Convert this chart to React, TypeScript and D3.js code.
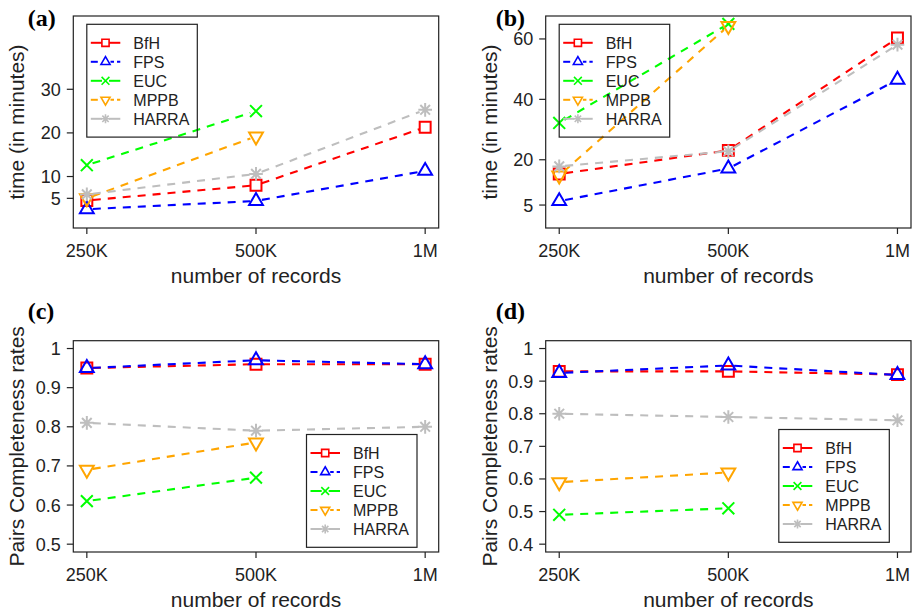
import * as d3 from "d3";

const categories = ["250K", "500K", "1M"];
const seriesNames = ["BfH", "FPS", "EUC", "MPPB", "HARRA"];
const seriesColors = ["#FF0000", "#0000FF", "#00FF00", "#FFA500", "#BEBEBE"];
const seriesShapes = ["square", "triUp", "cross", "triDown", "star"];

// (a) time, dataset 1
const aBfH = [4.5, 8.0, 21.3];
const aFPS = [2.5, 4.4, 11.3];
const aEUC = [12.6, 25.0];
const aMPPB = [5.0, 19.2];
const aHARRA = [5.9, 10.6, 25.3];

// (b) time, dataset 2
const bBfH = [15.3, 23.1, 60.3];
const bFPS = [6.3, 17.1, 46.5];
const bEUC = [32.2, 65.0];
const bMPPB = [14.8, 64.3];
const bHARRA = [17.8, 22.8, 58.1];

// (c) pairs completeness, dataset 1
const cBfH = [0.95, 0.96, 0.96];
const cFPS = [0.95, 0.97, 0.96];
const cEUC = [0.61, 0.67];
const cMPPB = [0.69, 0.76];
const cHARRA = [0.81, 0.79, 0.8];

// (d) pairs completeness, dataset 2
const dBfH = [0.93, 0.93, 0.92];
const dFPS = [0.925, 0.948, 0.919];
const dEUC = [0.49, 0.51];
const dMPPB = [0.59, 0.62];
const dHARRA = [0.8, 0.79, 0.78];

const timeTicksA = [5, 10, 20, 30];
const timeTicksB = [5, 20, 40, 60];
const pcTicksC = [0.5, 0.6, 0.7, 0.8, 0.9, 1];
const pcTicksD = [0.4, 0.5, 0.6, 0.7, 0.8, 0.9, 1];

const SANS = "Liberation Sans, Arial, Helvetica, sans-serif";

type Panel = {
  label: string;
  left: number;
  right: number;
  top: number;
  bottom: number;
  ylim: [number, number];
  yticks: number[];
  ytitle: string;
  series: number[][];
  legend: "topleft" | "bottomright";
  legendBottomGap: number;
};

const panels: Panel[] = [
  {
    label: "(a)", left: 73.3, right: 438.7, top: 16, bottom: 228,
    ylim: [0, 45], yticks: timeTicksA, ytitle: "time (in minutes)",
    series: [aBfH, aFPS, aEUC, aMPPB, aHARRA], legend: "topleft", legendBottomGap: 0,
  },
  {
    label: "(b)", left: 545.7, right: 911, top: 16, bottom: 228,
    ylim: [0, 65], yticks: timeTicksB, ytitle: "time (in minutes)",
    series: [bBfH, bFPS, bEUC, bMPPB, bHARRA], legend: "topleft", legendBottomGap: 0,
  },
  {
    label: "(c)", left: 73.3, right: 438.7, top: 340.7, bottom: 552,
    ylim: [0.5, 1], yticks: pcTicksC, ytitle: "Pairs Completeness rates",
    series: [cBfH, cFPS, cEUC, cMPPB, cHARRA], legend: "bottomright", legendBottomGap: 4.7,
  },
  {
    label: "(d)", left: 545.7, right: 911, top: 340.7, bottom: 552,
    ylim: [0.4, 1], yticks: pcTicksD, ytitle: "Pairs Completeness rates",
    series: [dBfH, dFPS, dEUC, dMPPB, dHARRA], legend: "bottomright", legendBottomGap: 9.7,
  },
];

function markerPath(shape: string, x: number, y: number, s: number) {
  const p = d3.path();
  if (shape === "square") {
    p.rect(x - s * 0.72, y - s * 0.72, s * 1.44, s * 1.44);
  } else if (shape === "triUp" || shape === "triDown") {
    const r = s * 1.05;
    const dir = shape === "triUp" ? 1 : -1;
    p.moveTo(x, y - dir * r);
    p.lineTo(x + r * 0.866, y + (dir * r) / 2);
    p.lineTo(x - r * 0.866, y + (dir * r) / 2);
    p.closePath();
  } else if (shape === "cross") {
    const r = s * 0.78;
    p.moveTo(x - r, y - r); p.lineTo(x + r, y + r);
    p.moveTo(x - r, y + r); p.lineTo(x + r, y - r);
  } else {
    const r = s * 0.9;
    const q = r * 0.707;
    p.moveTo(x - r, y); p.lineTo(x + r, y);
    p.moveTo(x, y - r); p.lineTo(x, y + r);
    p.moveTo(x - q, y - q); p.lineTo(x + q, y + q);
    p.moveTo(x - q, y + q); p.lineTo(x + q, y - q);
  }
  return p.toString();
}

function PanelChart({ pn }: { pn: Panel }) {
  const x = d3.scaleLinear().domain([-0.08, 2.08]).range([pn.left, pn.right]);
  const pad = (pn.ylim[1] - pn.ylim[0]) * 0.04;
  const y = d3
    .scaleLinear()
    .domain([pn.ylim[0] - pad, pn.ylim[1] + pad])
    .range([pn.bottom, pn.top]);
  const cx = (pn.left + pn.right) / 2;
  const cy = (pn.top + pn.bottom) / 2;

  const lw = 110.5;
  const lh = 112.8;
  const lx = pn.legend === "topleft" ? pn.left + 13.5 : pn.right - 21.7 - lw;
  const ly = pn.legend === "topleft" ? pn.top + 8.3 : pn.bottom - pn.legendBottomGap - lh;
  const isLeft = pn.label === "(a)" || pn.label === "(c)";
  const isTop = pn.label === "(a)" || pn.label === "(b)";

  const gap = 6;

  return (
    <g>
      <text x={isLeft ? 27.7 : 495.7} y={isTop ? 26 : 319}
        fontFamily="Liberation Serif, Times New Roman, serif" fontWeight="bold" fontSize={24}>{pn.label}</text>
      <rect x={pn.left} y={pn.top} width={pn.right - pn.left} height={pn.bottom - pn.top}
        fill="none" stroke="#222" strokeWidth={1.2} />
      {pn.yticks.map((t) => (
        <g key={t}>
          <line x1={pn.left} x2={pn.left - 6.5} y1={y(t)} y2={y(t)} stroke="#222" strokeWidth={1.2} />
          <text x={pn.left - 12.5} y={y(t)} dy="0.36em" textAnchor="end" fontFamily={SANS} fontSize={18} fill="#222">{String(t)}</text>
        </g>
      ))}
      {categories.map((c, i) => (
        <g key={c}>
          <line x1={x(i)} x2={x(i)} y1={pn.bottom} y2={pn.bottom + 6} stroke="#222" strokeWidth={1.2} />
          <text x={x(i)} y={pn.bottom + 29} textAnchor="middle" fontFamily={SANS} fontSize={18} fill="#222">{c}</text>
        </g>
      ))}
      <text x={cx} y={pn.bottom + 55} textAnchor="middle" fontFamily={SANS} fontSize={21} fill="#222">number of records</text>
      <text transform={`translate(${pn.left - 49},${cy}) rotate(-90)`} textAnchor="middle" fontFamily={SANS} fontSize={21} fill="#222">{pn.ytitle}</text>

      {pn.series.map((vals, si) => {
        const pts = vals.map((v, i) => [x(i), y(v)] as [number, number]);
        const segs = [];
        for (let i = 0; i < pts.length - 1; i++) {
          const [x0, y0] = pts[i];
          const [x1, y1] = pts[i + 1];
          const len = Math.hypot(x1 - x0, y1 - y0);
          const ux = (x1 - x0) / len;
          const uy = (y1 - y0) / len;
          segs.push(
            <line key={i} x1={x0 + ux * gap} y1={y0 + uy * gap} x2={x1 - ux * gap} y2={y1 - uy * gap}
              stroke={seriesColors[si]} strokeWidth={2.1} strokeDasharray="8,7" />
          );
        }
        return (
          <g key={si}>
            {segs}
            {pts.map(([px, py], i) => (
              <path key={"m" + i} d={markerPath(seriesShapes[si], px, py, 7.6)} fill="none"
                stroke={seriesColors[si]} strokeWidth={2} />
            ))}
          </g>
        );
      })}

      <rect x={lx} y={ly} width={lw} height={lh} fill="none" stroke="#222" strokeWidth={1.2} />
      {seriesNames.map((nm, si) => {
        const ey = ly + 18.5 + si * 19;
        const dashed = si === 1 || si === 3;
        const mx = lx + 18.7;
        return (
          <g key={nm}>
            <line x1={lx + 4} x2={mx - (dashed ? 5 : 3.5)} y1={ey} y2={ey} stroke={seriesColors[si]} strokeWidth={2}
              strokeDasharray={dashed ? "7,3.5" : undefined} />
            <line x1={mx + (dashed ? 5 : 3.5)} x2={lx + 33.5} y1={ey} y2={ey} stroke={seriesColors[si]} strokeWidth={2}
              strokeDasharray={dashed ? "3.5,3,7" : undefined} />
            <path d={markerPath(seriesShapes[si], mx, ey, 5)} fill="none" stroke={seriesColors[si]} strokeWidth={1.6} />
            <text x={lx + 46.5} y={ey} dy="0.36em" fontFamily={SANS} fontSize={16} fill="#222">{nm}</text>
          </g>
        );
      })}
    </g>
  );
}

export default function App() {
  return (
    <svg width={914} height={613} style={{ position: "absolute", left: 0, top: 0, background: "white" }}>
      <rect width={914} height={613} fill="white" />
      {panels.map((pn) => (
        <PanelChart key={pn.label} pn={pn} />
      ))}
    </svg>
  );
}
